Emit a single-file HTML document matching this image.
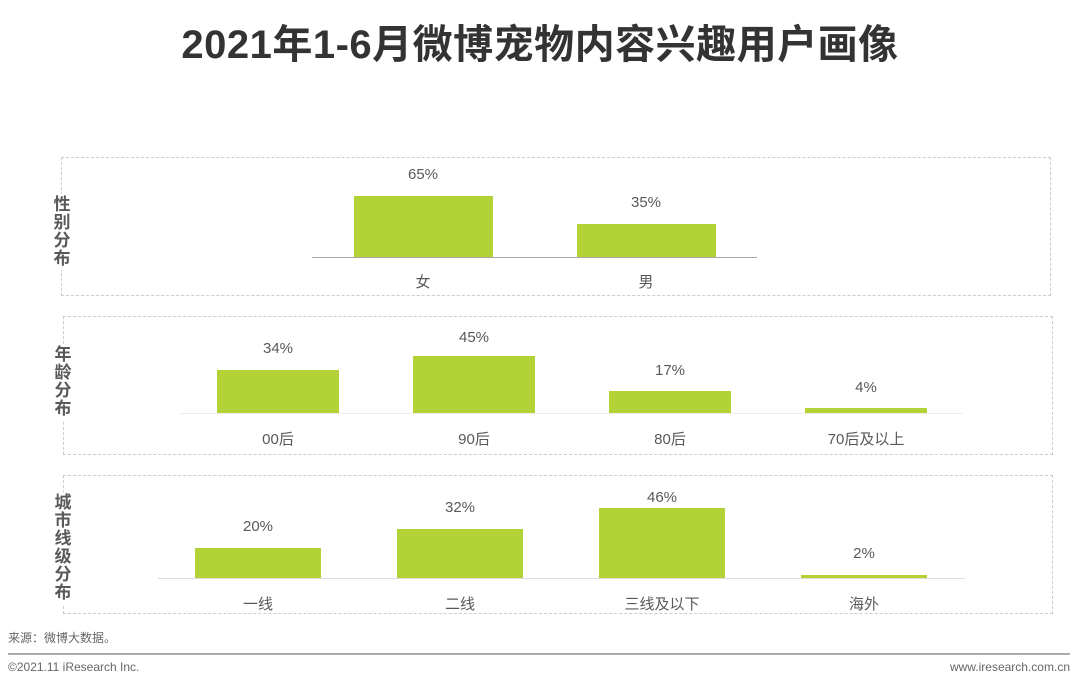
<!DOCTYPE html>
<html><head><meta charset="utf-8"><style>
body{margin:0;width:1080px;height:688px;background:#fff;position:relative;overflow:hidden;font-family:"Liberation Sans","Noto Sans CJK SC",sans-serif;color:#595959}
div{position:absolute}
.box{border:1.5px dashed #ccc}
.lab{background:#fff;font-weight:bold;color:#595959;font-size:17px;line-height:18px;width:20px;text-align:center}
.bar{background:#b2d235}
.v,.c{font-size:15px;text-align:center;width:160px;line-height:18px}
.ax{height:1px;background:#bbb}
</style></head><body>
<div style="left:0;top:21px;width:1080px;text-align:center;font-size:40px;font-weight:bold;color:#333;line-height:48px;letter-spacing:0.5px">2021年1-6月微博宠物内容兴趣用户画像</div>

<div class="box" style="left:61px;top:157px;width:988px;height:137px"></div>
<div class="lab" style="left:52px;top:194px;padding:2px 0">性<br>别<br>分<br>布</div>
<div class="ax" style="left:312px;top:257px;width:445px;background:#aaa"></div>
<div class="bar" style="left:354px;top:196px;width:139px;height:61px"></div>
<div class="bar" style="left:577px;top:224px;width:139px;height:33px"></div>
<div class="v" style="left:343px;top:166px">65%</div>
<div class="v" style="left:566px;top:194px">35%</div>
<div class="c" style="left:343px;top:274px">女</div>
<div class="c" style="left:566px;top:274px">男</div>

<div class="box" style="left:63px;top:316px;width:988px;height:137px"></div>
<div class="lab" style="left:53px;top:344px;padding:2px 0">年<br>龄<br>分<br>布</div>
<div class="ax" style="left:180px;top:413px;width:783px;background:#eee"></div>
<div class="bar" style="left:217px;top:370px;width:122px;height:43px"></div>
<div class="bar" style="left:413px;top:356px;width:122px;height:57px"></div>
<div class="bar" style="left:609px;top:391px;width:122px;height:22px"></div>
<div class="bar" style="left:805px;top:408px;width:122px;height:5px"></div>
<div class="v" style="left:198px;top:340px">34%</div>
<div class="v" style="left:394px;top:329px">45%</div>
<div class="v" style="left:590px;top:362px">17%</div>
<div class="v" style="left:786px;top:379px">4%</div>
<div class="c" style="left:198px;top:431px">00后</div>
<div class="c" style="left:394px;top:431px">90后</div>
<div class="c" style="left:590px;top:431px">80后</div>
<div class="c" style="left:786px;top:431px">70后及以上</div>

<div class="box" style="left:63px;top:475px;width:988px;height:137px"></div>
<div class="lab" style="left:53px;top:492px;padding:2px 0">城<br>市<br>线<br>级<br>分<br>布</div>
<div class="ax" style="left:158px;top:578px;width:807px;background:#ddd"></div>
<div class="bar" style="left:195px;top:548px;width:126px;height:30px"></div>
<div class="bar" style="left:397px;top:529px;width:126px;height:49px"></div>
<div class="bar" style="left:599px;top:508px;width:126px;height:70px"></div>
<div class="bar" style="left:801px;top:575px;width:126px;height:3px"></div>
<div class="v" style="left:178px;top:518px">20%</div>
<div class="v" style="left:380px;top:499px">32%</div>
<div class="v" style="left:582px;top:489px">46%</div>
<div class="v" style="left:784px;top:545px">2%</div>
<div class="c" style="left:178px;top:596px">一线</div>
<div class="c" style="left:380px;top:596px">二线</div>
<div class="c" style="left:582px;top:596px">三线及以下</div>
<div class="c" style="left:784px;top:596px">海外</div>

<div style="left:8px;top:629px;font-size:12px;color:#666">来源：微博大数据。</div>
<div style="left:8px;top:653px;width:1062px;height:2px;background:#aaa"></div>
<div style="left:8px;top:660px;font-size:12px;color:#666">©2021.11 iResearch Inc.</div>
<div style="right:10px;top:660px;font-size:12px;color:#666">www.iresearch.com.cn</div>
</body></html>
